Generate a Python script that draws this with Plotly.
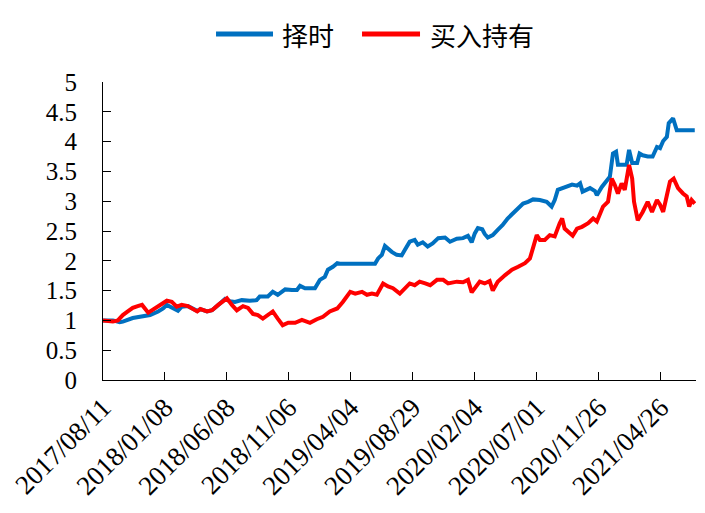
import plotly.graph_objects as go

# x = trading-day index from 2017/08/11 (ticks every 100 trading days)
tick_idx = [0, 100, 200, 300, 400, 500, 600, 700, 800, 900]
tick_labels = ["2017/08/11", "2018/01/08", "2018/06/08", "2018/11/06", "2019/04/04",
               "2019/08/29", "2020/02/04", "2020/07/01", "2020/11/26", "2021/04/26"]

series_names = ["择时", "买入持有"]
series_colors = ["#0070C0", "#FF0000"]

timing_idx = [0, 16, 27, 32, 48, 60, 76, 89, 97, 103, 111, 121, 127, 137, 152, 157, 168, 176,
              186, 197, 205, 213, 224, 237, 248, 253, 266, 274, 282, 294, 305, 313, 318, 326,
              342, 350, 358, 363, 371, 378, 382, 439, 444, 450, 455, 460, 466, 474, 482, 487,
              495, 503, 508, 516, 524, 532, 541, 552, 560, 571, 581, 589, 595, 600, 605, 612,
              616, 621, 629, 637, 645, 653, 662, 670, 678, 686, 694, 705, 716, 724, 729, 734,
              745, 757, 765, 770, 774, 786, 794, 797, 805, 813, 818, 823, 828, 831, 845, 849,
              854, 862, 866, 871, 879, 887, 894, 899, 904, 910, 913, 920, 926, 955]
timing_val = [1.00, 1.00, 0.97, 0.98, 1.04, 1.06, 1.09, 1.15, 1.20, 1.26, 1.21, 1.16, 1.23,
              1.24, 1.16, 1.19, 1.15, 1.17, 1.26, 1.36, 1.32, 1.31, 1.34, 1.33, 1.34, 1.40,
              1.40, 1.48, 1.43, 1.52, 1.51, 1.51, 1.58, 1.54, 1.54, 1.68, 1.73, 1.85, 1.90,
              1.96, 1.95, 1.95, 2.04, 2.10, 2.25, 2.20, 2.15, 2.10, 2.09, 2.18, 2.32, 2.35,
              2.27, 2.31, 2.24, 2.29, 2.38, 2.39, 2.32, 2.37, 2.38, 2.42, 2.31, 2.46, 2.55,
              2.53, 2.45, 2.39, 2.43, 2.52, 2.60, 2.71, 2.80, 2.86, 2.96, 2.99, 3.03, 3.02,
              2.99, 2.91, 3.02, 3.19, 3.24, 3.28, 3.26, 3.30, 3.16, 3.22, 3.17, 3.10, 3.24,
              3.36, 3.41, 3.80, 3.83, 3.61, 3.61, 3.86, 3.64, 3.64, 3.80, 3.77, 3.75, 3.75,
              3.91, 3.89, 4.01, 4.08, 4.31, 4.39, 4.19, 4.19]

hold_idx = [0, 16, 24, 32, 40, 48, 56, 63, 73, 84, 92, 103, 111, 119, 127, 137, 152, 157,
            168, 176, 186, 197, 200, 208, 216, 226, 234, 242, 250, 258, 266, 274, 282, 290,
            299, 310, 321, 334, 345, 355, 366, 378, 387, 399, 407, 418, 426, 434, 442, 452,
            460, 468, 479, 487, 495, 503, 511, 520, 528, 539, 549, 557, 571, 581, 589, 595,
            600, 608, 616, 624, 629, 637, 649, 660, 670, 681, 689, 694, 700, 705, 713, 721,
            729, 737, 741, 745, 754, 758, 765, 773, 783, 791, 797, 807, 815, 821, 826, 831,
            837, 842, 849, 854, 857, 863, 871, 879, 886, 894, 899, 904, 910, 915, 921, 928,
            936, 942, 946, 950, 955]
hold_val = [1.00, 0.98, 1.00, 1.09, 1.15, 1.21, 1.24, 1.26, 1.13, 1.21, 1.26, 1.33, 1.31,
            1.23, 1.26, 1.24, 1.15, 1.19, 1.15, 1.17, 1.26, 1.36, 1.37, 1.26, 1.17, 1.24,
            1.21, 1.11, 1.09, 1.03, 1.09, 1.15, 1.03, 0.92, 0.96, 0.96, 1.01, 0.96, 1.02,
            1.06, 1.15, 1.20, 1.31, 1.48, 1.45, 1.48, 1.43, 1.45, 1.43, 1.62, 1.57, 1.54,
            1.45, 1.54, 1.62, 1.59, 1.65, 1.62, 1.59, 1.68, 1.68, 1.62, 1.65, 1.64, 1.68,
            1.47, 1.55, 1.65, 1.62, 1.66, 1.50, 1.65, 1.76, 1.85, 1.90, 1.96, 2.04, 2.21,
            2.43, 2.35, 2.35, 2.43, 2.41, 2.63, 2.71, 2.54, 2.45, 2.42, 2.54, 2.57, 2.63,
            2.71, 2.66, 2.91, 2.99, 3.38, 3.27, 3.13, 3.30, 3.19, 3.61, 3.38, 2.99, 2.68,
            2.82, 2.99, 2.82, 3.02, 2.94, 2.82, 3.10, 3.33, 3.38, 3.22, 3.13, 3.08, 2.91,
            3.02, 2.96]

y_ticks = [0, 0.5, 1, 1.5, 2, 2.5, 3, 3.5, 4, 4.5, 5]
y_labels = ["0", "0.5", "1", "1.5", "2", "2.5", "3", "3.5", "4", "4.5", "5"]

fig = go.Figure()
fig.add_trace(go.Scatter(x=timing_idx, y=timing_val, mode="lines", name=series_names[0],
                         line=dict(color=series_colors[0], width=4), showlegend=False))
fig.add_trace(go.Scatter(x=hold_idx, y=hold_val, mode="lines", name=series_names[1],
                         line=dict(color=series_colors[1], width=4), showlegend=False,
                         yaxis="y2"))

# custom legend (longer line samples like the original)
legend_line_x = [(0.1906, 0.2867), (0.4368, 0.5346)]
legend_text_x = [0.2985, 0.548]
legend_y = 1.161
for name, color, (x0, x1), tx in zip(series_names, series_colors, legend_line_x, legend_text_x):
    fig.add_shape(type="line", xref="paper", yref="paper", x0=x0, x1=x1, y0=legend_y, y1=legend_y,
                  line=dict(color=color, width=5))
    fig.add_annotation(xref="paper", yref="paper", x=tx, y=legend_y, text=name, showarrow=False,
                       xanchor="left", yanchor="middle",
                       font=dict(family="Noto Sans CJK SC", size=26, color="black"))

serif = "Liberation Serif, Times New Roman, serif"
fig.update_layout(
    width=705, height=513,
    margin=dict(l=95, r=17, t=74, b=141, autoexpand=False),
    paper_bgcolor="white", plot_bgcolor="white",
    font=dict(family=serif, size=24, color="black"),
    showlegend=False,
    xaxis=dict(range=[0, 957], tickmode="array", tickvals=tick_idx, ticktext=tick_labels,
               tickangle=-45, showgrid=False, zeroline=False, showline=True,
               linecolor="black", linewidth=1, ticks="inside", ticklen=8, automargin=False,
               tickcolor="black", tickfont=dict(family=serif, size=27)),
    # label axis: invisible outside ticks push labels away from the axis line
    yaxis=dict(range=[0, 5], tickmode="array", tickvals=y_ticks, ticktext=y_labels,
               showgrid=False, zeroline=False, showline=True, linecolor="black",
               linewidth=1, ticks="outside", ticklen=20, tickcolor="rgba(0,0,0,0)",
               automargin=False, tickfont=dict(family=serif, size=25)),
    # tick-mark axis: inside ticks, no labels
    yaxis2=dict(range=[0, 5], overlaying="y", side="left", tickmode="array", tickvals=y_ticks,
                showticklabels=False, showgrid=False, zeroline=False, showline=True,
                linecolor="black", linewidth=1, ticks="inside", ticklen=8,
                tickcolor="black", automargin=False),
)

fig.write_html("out.html")
